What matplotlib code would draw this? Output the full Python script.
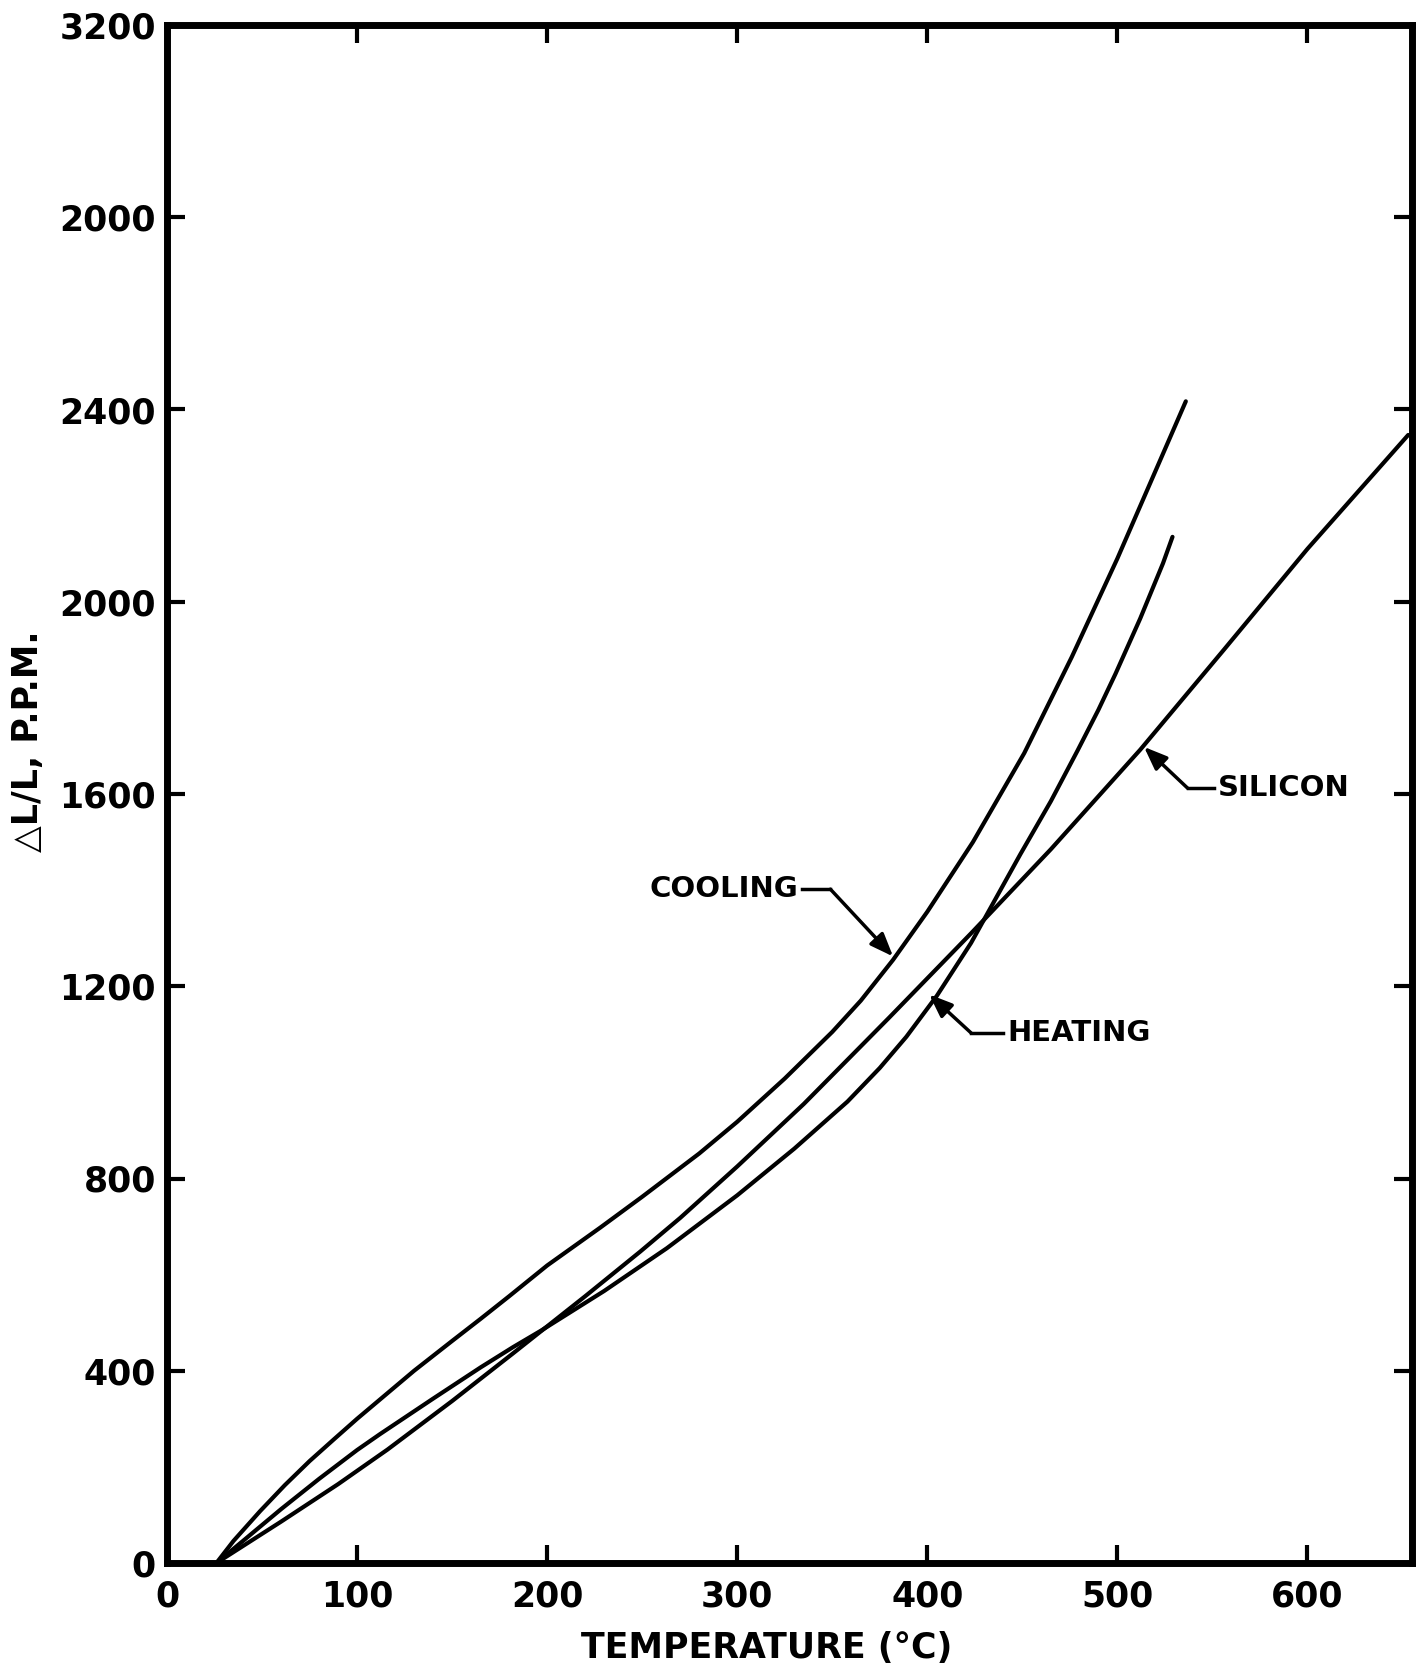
import matplotlib
matplotlib.use("Agg")
import matplotlib.pyplot as plt

# Data (temperature in deg C, dL/L in ppm)
cool_T = [26, 35, 49, 62, 75, 88, 100, 112, 130, 150, 165, 180, 200, 228, 250, 280, 300, 325, 350, 365, 382, 400, 424, 451, 476, 500, 536]
cool_V = [0, 46, 108, 162, 212, 258, 300, 340, 400, 462, 508, 555, 619, 698, 762, 852, 918, 1008, 1105, 1170, 1255, 1355, 1500, 1685, 1885, 2090, 2417]

heat_T = [26, 40, 60, 80, 100, 112, 140, 165, 182, 197, 230, 263, 300, 330, 358, 375, 389, 405, 423, 449, 465, 479, 490, 499, 512, 524, 529]
heat_V = [0, 46, 112, 175, 235, 268, 342, 407, 449, 484, 566, 655, 765, 862, 960, 1030, 1095, 1180, 1290, 1475, 1585, 1690, 1775, 1850, 1965, 2080, 2135]

si_T = [26, 60, 90, 116, 150, 182, 197, 220, 249, 270, 300, 335, 380, 423, 465, 512, 556, 600, 653]
si_V = [0, 86, 164, 236, 337, 436, 483, 555, 648, 718, 825, 955, 1135, 1310, 1485, 1692, 1900, 2110, 2347]

x_ticks = [0, 100, 200, 300, 400, 500, 600]
y_ticks = [0, 400, 800, 1200, 1600, 2000, 2400, 2800, 3200]
y_tick_labels = ["0", "400", "800", "1200", "1600", "2000", "2400", "2000", "3200"]

fig = plt.figure(figsize=(14.24, 16.67), dpi=100)
ax = fig.add_axes([167/1424, 1-1563/1667, (1412-167)/1424, (1563-25)/1667])

lw = 3.0
for T, V in [(cool_T, cool_V), (heat_T, heat_V), (si_T, si_V)]:
    ax.plot(T, V, color="black", lw=lw, solid_capstyle="round", solid_joinstyle="round", clip_on=False)

ax.set_xlim(0, 655)
ax.set_ylim(0, 3200)
ax.set_xticks(x_ticks)
ax.set_yticks(y_ticks)
ax.set_yticklabels(y_tick_labels)
for s in ax.spines.values():
    s.set_linewidth(5)
ax.tick_params(direction="in", length=13, width=3, top=True, right=True,
               labelsize=25, color="black")
ax.tick_params(axis="y", pad=8)
ax.tick_params(axis="x", pad=12)
for t in ax.get_xticklabels() + ax.get_yticklabels():
    t.set_fontweight("bold")

# annotations
def label(text, tx, ty, bx, tip, ha):
    ax.plot([tx, bx], [ty, ty], color="black", lw=2.5)
    ax.annotate("", xy=tip, xytext=(bx, ty),
                arrowprops=dict(arrowstyle="-|>,head_length=1.4,head_width=0.55",
                                color="black", lw=2.5, shrinkA=0, shrinkB=0))
    ax.text(tx + (2 if ha == "left" else -2), ty, text, ha=ha, va="center",
            fontsize=21, fontweight="bold")

label("COOLING", 334, 1402, 349, (382, 1262), "right")
label("HEATING", 440, 1103, 423, (401, 1183), "left")
label("SILICON", 551, 1612, 537, (514, 1698), "left")

fig.text(767/1424, 1-1648/1667, "TEMPERATURE (°C)", ha="center", va="center",
         fontsize=25, fontweight="bold")
fig.text(28/1424, 1-741/1667, "△L/L, P.P.M.", ha="center", va="center",
         fontsize=25, fontweight="bold", rotation=90)

fig.savefig("out.png", dpi=100)
